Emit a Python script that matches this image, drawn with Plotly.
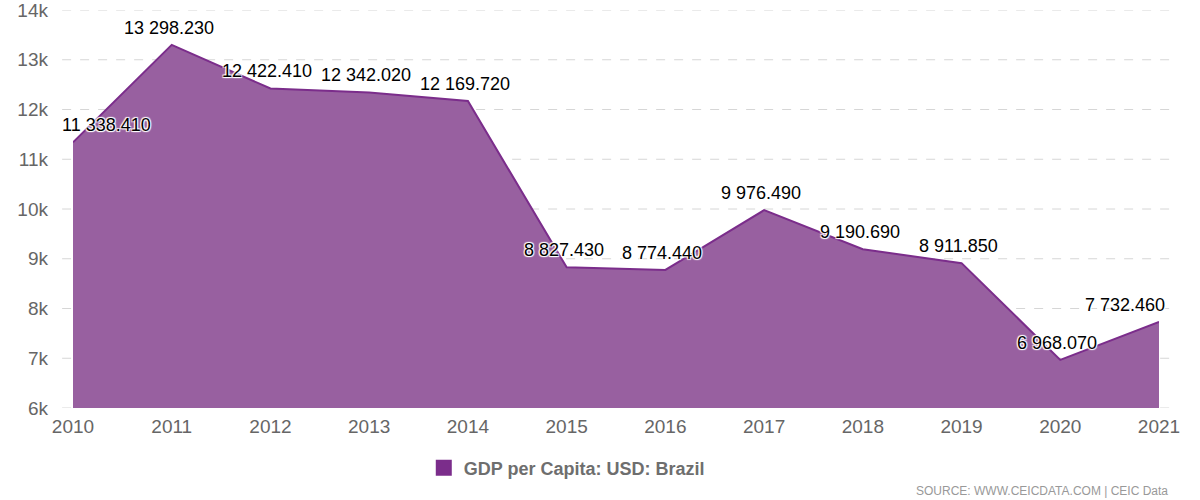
import plotly.graph_objects as go

years = [2010, 2011, 2012, 2013, 2014, 2015, 2016, 2017, 2018, 2019, 2020, 2021]
gdp_per_capita = [11338.41, 13298.23, 12422.41, 12342.02, 12169.72, 8827.43,
                  8774.44, 9976.49, 9190.69, 8911.85, 6968.07, 7732.46]
y_ticks = [6000, 7000, 8000, 9000, 10000, 11000, 12000, 13000, 14000]
y_tick_labels = ["6k", "7k", "8k", "9k", "10k", "11k", "12k", "13k", "14k"]
series_name = "GDP per Capita: USD: Brazil"

LINE = "#7b2d8b"
FILL = "rgb(152,96,160)"
FONT = "Liberation Sans, Arial, sans-serif"


def fmt(v):
    return f"{v:,.3f}".replace(",", " ")


fig = go.Figure()
fig.add_trace(go.Scatter(
    x=years, y=gdp_per_capita, mode="lines", name=series_name,
    line=dict(color=LINE, width=2), fill="tozeroy", fillcolor=FILL,
    hoverinfo="x+y", showlegend=False,
))
# legend entry (square swatch like the reference)
fig.add_trace(go.Scatter(
    x=[None], y=[None], mode="markers", name=series_name,
    marker=dict(symbol="square", size=16, color=LINE), showlegend=True,
))

# grid lines extending slightly beyond plot area
for t in y_ticks:
    fig.add_shape(type="line", xref="paper", yref="y", x0=-0.010, x1=1.015,
                  y0=t, y1=t, line=dict(color="#d6d6d6", width=1, dash="dash"),
                  layer="below")

shadow = ("1px 1px 1px white, -1px -1px 1px white, 1px -1px 1px white, "
          "-1px 1px 1px white")
for i, (x, v) in enumerate(zip(years, gdp_per_capita)):
    xs = -3
    if i == 0:
        xs = 33
    elif i == len(years) - 1:
        xs = -34
    fig.add_annotation(x=x, y=v, text=fmt(v), showarrow=False, xshift=xs,
                       yshift=17, font=dict(family=FONT, size=18, color="#000",
                                            shadow=shadow))

fig.add_annotation(xref="paper", yref="paper", x=1.01, y=-0.208, xanchor="right",
                   yanchor="middle", text="SOURCE: WWW.CEICDATA.COM | CEIC Data",
                   showarrow=False, font=dict(family=FONT, size=12, color="#999"))

fig.update_layout(
    width=1200, height=500,
    margin=dict(l=73, r=41, t=10, b=92),
    paper_bgcolor="white", plot_bgcolor="white",
    font=dict(family=FONT),
    xaxis=dict(range=[2010, 2021], tickvals=years, showgrid=False, zeroline=False,
               showline=False, ticks="", automargin=False, ticklabelstandoff=5,
               tickfont=dict(size=19, color="#666")),
    yaxis=dict(range=[6000, 14000], tickvals=y_ticks, ticktext=y_tick_labels,
               showgrid=False, zeroline=False, showline=False, ticks="",
               ticklabeloverflow="allow", automargin=False,
               ticklabelstandoff=24, tickfont=dict(size=19, color="#666")),
    showlegend=True,
    legend=dict(orientation="h", x=0.323, xanchor="left", y=-0.151, yanchor="middle",
                itemsizing="trace",
                font=dict(size=18, color="#6e6e6e", weight="bold")),
)

fig.write_html("out.html")
